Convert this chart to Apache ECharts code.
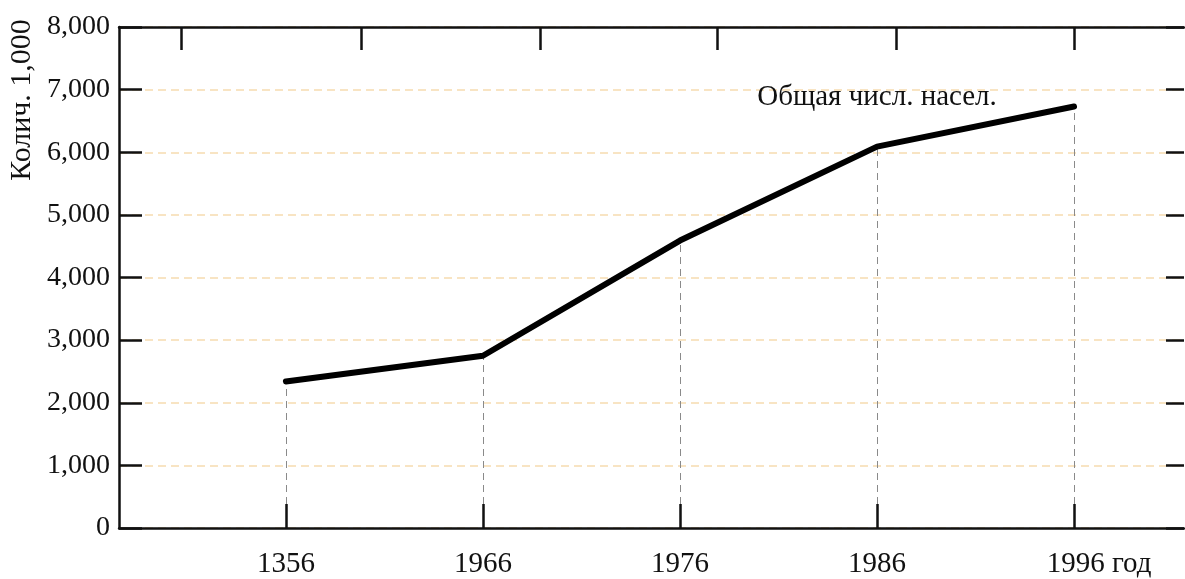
<!DOCTYPE html>
<html>
<head>
<meta charset="utf-8">
<title>Общая числ. насел.</title>
<script src="https://cdn.jsdelivr.net/npm/echarts@6/dist/echarts.min.js"></script>
<style>
  html, body { margin: 0; padding: 0; background: #fff; }
  #chart { width: 1185px; height: 579px; }
</style>
</head>
<body>
<div id="chart"></div>
<script>
// data
var years = ["1356", "1966", "1976", "1986", "1996"];
var population = [2340, 2750, 4590, 6090, 6730]; // тыс. чел.
var topTicks = [-0.53, 0.38, 1.29, 2.19, 3.1, 4.0]; // marks on the upper frame, in category units
var seriesName = "Общая числ. насел.";
var yName = "Колич. 1,000";
var unit = " год";

var FONT = "'Liberation Serif', 'Times New Roman', serif";
var idx = years.map(function (y, i) { return i; });

var chart = echarts.init(document.getElementById("chart"));
chart.setOption({
  animation: false,
  backgroundColor: "#fff",
  textStyle: { fontFamily: FONT, color: "#111" },
  grid: { left: 119, right: 1, top: 27, bottom: 49, containLabel: false },
  graphic: [
    {
      type: "text",
      x: 22,
      y: 100,
      rotation: Math.PI / 2,
      style: {
        text: yName,
        font: "30px " + FONT,
        fill: "#111",
        align: "center",
        verticalAlign: "middle",
      },
    },
  ],
  xAxis: [
    {
      type: "value",
      position: "bottom",
      min: -0.847,
      max: 4.558,
      z: 10,
      axisLine: { show: true, onZero: false, lineStyle: { color: "#111", width: 2.5 } },
      axisTick: {
        show: true,
        inside: true,
        length: 24,
        customValues: idx,
        lineStyle: { color: "#111", width: 2.5 },
      },
      axisLabel: {
        customValues: idx,
        margin: 22,
        fontSize: 29,
        fontFamily: FONT,
        color: "#111",
        formatter: function (v) {
          var i = Math.round(v);
          if (i === years.length - 1) return "{p| }{y|" + years[i] + unit + "}";
          return years[i];
        },
        rich: {
          y: { fontSize: 29, fontFamily: FONT, color: "#111" },
          p: { width: 50, fontSize: 29 },
        },
      },
      splitLine: { show: false },
    },
    {
      type: "value",
      position: "top",
      min: -0.847,
      max: 4.558,
      z: 10,
      axisLine: { show: true, onZero: false, lineStyle: { color: "#111", width: 2.5 } },
      axisTick: {
        show: true,
        inside: true,
        length: 23,
        customValues: topTicks,
        lineStyle: { color: "#111", width: 2.5 },
      },
      axisLabel: { show: false },
      splitLine: { show: false },
    },
  ],
  yAxis: [
    {
      type: "value",
      position: "left",
      min: 0,
      max: 8000,
      interval: 1000,
      axisLine: { show: true, onZero: false, lineStyle: { color: "#111", width: 2.5 } },
      axisTick: { show: true, inside: true, length: 23, lineStyle: { color: "#111", width: 2.5 } },
      axisLabel: {
        margin: 9,
        fontSize: 28,
        fontFamily: FONT,
        color: "#111",
        formatter: function (v) { return v.toLocaleString("en-US"); },
      },
      splitLine: {
        show: true,
        lineStyle: { color: "#f6dcb0", type: [8, 5], width: 1.5 },
      },
    },
    {
      type: "value",
      position: "right",
      min: 0,
      max: 8000,
      interval: 1000,
      axisLine: { show: false, onZero: false },
      axisTick: { show: true, inside: true, length: 18, lineStyle: { color: "#111", width: 2.5 } },
      axisLabel: { show: false },
      splitLine: { show: false },
    },
  ],
  series: [
    {
      name: seriesName,
      type: "line",
      xAxisIndex: 0,
      yAxisIndex: 0,
      data: population.map(function (v, i) { return [i, v]; }),
      showSymbol: false,
      symbol: "none",
      lineStyle: { color: "#000", width: 6, cap: "round", join: "round" },
      z: 5,
      markLine: {
        silent: true,
        symbol: "none",
        label: { show: false },
        lineStyle: { color: "#8a8a8a", type: [7, 5], width: 1 },
        data: population.map(function (v, i) {
          return [{ coord: [i, 0] }, { coord: [i, v] }];
        }),
      },
      markPoint: {
        silent: true,
        symbol: "circle",
        symbolSize: 0,
        label: {
          show: true,
          position: "inside",
          formatter: seriesName,
          fontSize: 29,
          fontFamily: FONT,
          color: "#111",
        },
        data: [{ coord: [3, 6870] }],
      },
    },
  ],
});
</script>
</body>
</html>
